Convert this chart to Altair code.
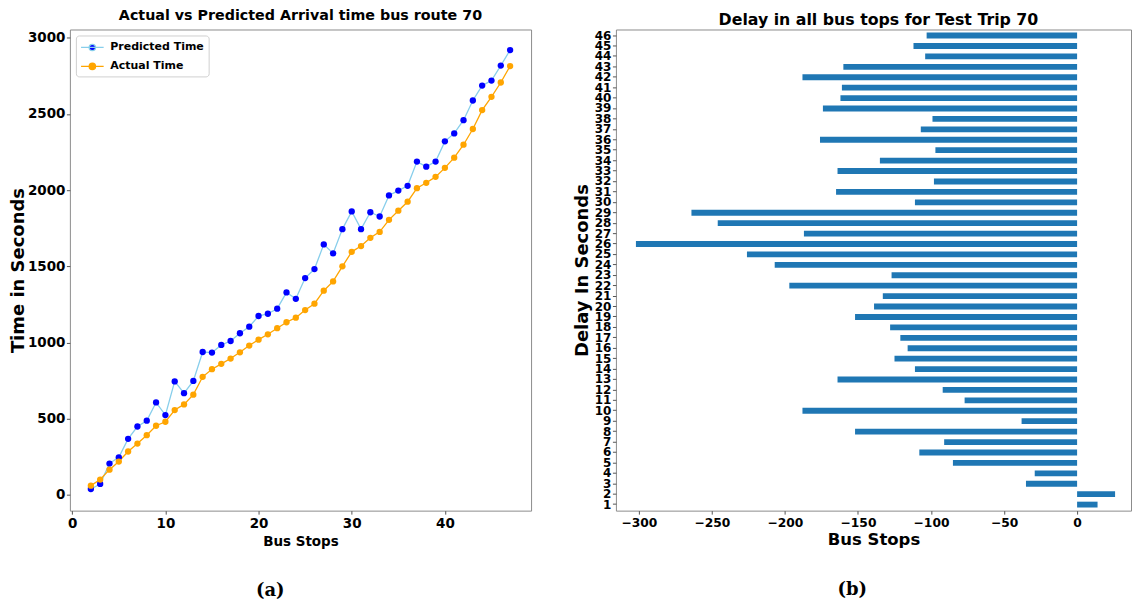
import altair as alt
import pandas as pd

# ---------------- data ----------------
stops = list(range(2, 48))
predicted = [39, 72, 206, 247, 368, 449, 487, 607, 524, 745,
             668, 748, 938, 934, 984, 1010, 1061, 1104, 1174, 1189,
             1222, 1329, 1287, 1423, 1482, 1644, 1585, 1744, 1860, 1744,
             1855, 1827, 1965, 1997, 2028, 2187, 2154, 2187, 2320, 2372,
             2459, 2588, 2686, 2719, 2817, 2919]
actual = [61, 101, 166, 219, 285, 337, 392, 454, 480, 557,
          594, 658, 775, 825, 860, 895, 936, 980, 1019, 1054,
          1094, 1133, 1163, 1213, 1255, 1340, 1401, 1500, 1595, 1633,
          1687, 1726, 1805, 1865, 1924, 2013, 2048, 2087, 2146, 2213,
          2298, 2401, 2525, 2612, 2706, 2814]
series_names = ["Predicted Time", "Actual Time"]
line_colors = ["#87CEEB", "#FFA500"]
dot_colors = ["#0000FF", "#FFA500"]

bar_stops = list(range(1, 47))
delays = [14, 26, -35, -29, -85, -108, -91, -152, -38, -188,
          -77, -92, -164, -111, -125, -116, -121, -128, -152, -139,
          -133, -197, -127, -207, -226, -302, -187, -246, -264, -111,
          -165, -98, -164, -135, -97, -176, -107, -99, -174, -162,
          -161, -188, -160, -104, -112, -103]

x_ticks_left = [0, 10, 20, 30, 40]
y_ticks_left = [0, 500, 1000, 1500, 2000, 2500, 3000]
x_ticks_right = [-300, -250, -200, -150, -100, -50, 0]

df_time = pd.DataFrame({
    "stop": stops * 2,
    "time": predicted + actual,
    "series": [series_names[0]] * len(stops) + [series_names[1]] * len(stops),
})
df_delay = pd.DataFrame({"stop": bar_stops, "delay": delays})

FONT = "DejaVu Sans"
legend_path = "M-1.6,0H1.6M-0.45,0A0.45,0.45,0,1,0,0.45,0A0.45,0.45,0,1,0,-0.45,0Z"

# ---------------- left panel ----------------
x_left = alt.X("stop:Q",
               scale=alt.Scale(domain=[-0.25, 49.25], nice=False, zero=False),
               axis=alt.Axis(values=x_ticks_left, title="Bus Stops", labelFontSize=13.5,
                             titleFontSize=13.5, labelPadding=2, titlePadding=5, tickSize=3.5))
y_left = alt.Y("time:Q",
               scale=alt.Scale(domain=[-103, 3054], nice=False, zero=False),
               axis=alt.Axis(values=y_ticks_left, format="d", title="Time in Seconds",
                             labelFontSize=13.5, titleFontSize=18, labelPadding=1.5,
                             titlePadding=0, tickSize=3.5))

leg = alt.Legend(title=None, orient="none", legendX=6, legendY=6, padding=4,
                 symbolType=legend_path, symbolSize=200, symbolStrokeWidth=1.3,
                 symbolOffset=4.5, labelOffset=10, rowPadding=5,
                 labelFontSize=11, labelFont=FONT, labelFontWeight="bold", labelColor="black",
                 strokeColor="#d0d0d0", fillColor="white", cornerRadius=3)

lines = alt.Chart(df_time).mark_line(strokeWidth=1.3).encode(
    x=x_left, y=y_left,
    stroke=alt.Stroke("series:N", scale=alt.Scale(domain=series_names, range=line_colors), legend=leg),
)
points = alt.Chart(df_time).mark_point(filled=True, shape="circle", size=40, opacity=1).encode(
    x=x_left, y=y_left,
    fill=alt.Fill("series:N", scale=alt.Scale(domain=series_names, range=dot_colors), legend=leg),
)
left_plot = alt.layer(lines, points).properties(
    width=462, height=482,
    title=alt.TitleParams("Actual vs Predicted Arrival time bus route 70", fontSize=14.3,
                          font=FONT, fontWeight="bold", color="black", offset=6, anchor="middle"),
)
left = alt.vconcat(left_plot, title=alt.TitleParams("(a)", orient="bottom", anchor="middle",
                                                    font="DejaVu Serif", fontSize=18, fontWeight="bold",
                                                    color="black", offset=34))

# ---------------- right panel ----------------
bars = alt.Chart(df_delay).mark_bar(color="#1f77b4").encode(
    x=alt.X("delay:Q",
            scale=alt.Scale(domain=[-315.7, 36.9], nice=False, zero=False),
            axis=alt.Axis(values=x_ticks_right, title="Bus Stops", labelFontSize=12.3,
                          titleFontSize=16.5, labelPadding=2, titlePadding=3, tickSize=3.5)),
    x2=alt.datum(0),
    y=alt.Y("stop:O", sort="descending",
            scale=alt.Scale(paddingInner=0.44, paddingOuter=0.3),
            axis=alt.Axis(title="Delay In Seconds", labelFontSize=12, labelAngle=0,
                          labelOverlap=False, labelPadding=1.5, titleFontSize=18,
                          titlePadding=3, tickSize=3.5)),
).properties(
    width=516, height=482,
    title=alt.TitleParams("Delay in all bus tops for Test Trip 70", fontSize=15.8,
                          font=FONT, fontWeight="bold", color="black", offset=0, anchor="middle", dx=5),
)
right = alt.vconcat(bars, title=alt.TitleParams("(b)", orient="bottom", anchor="middle",
                                                font="DejaVu Serif", fontSize=18, fontWeight="bold",
                                                color="black", offset=33))

chart = alt.hconcat(left, right, spacing=40).properties(
    padding={"left": 0, "top": 0, "right": 0, "bottom": 0}
).configure_view(
    stroke="#8c8c8c", strokeWidth=1
).configure_axis(
    domain=False, grid=False, tickColor="#555555", labelColor="black", titleColor="black",
    labelFont=FONT, titleFont=FONT, labelFontWeight="bold", titleFontWeight="bold",
)

chart.save("out.html", embed_options={"renderer": "svg", "actions": False})
